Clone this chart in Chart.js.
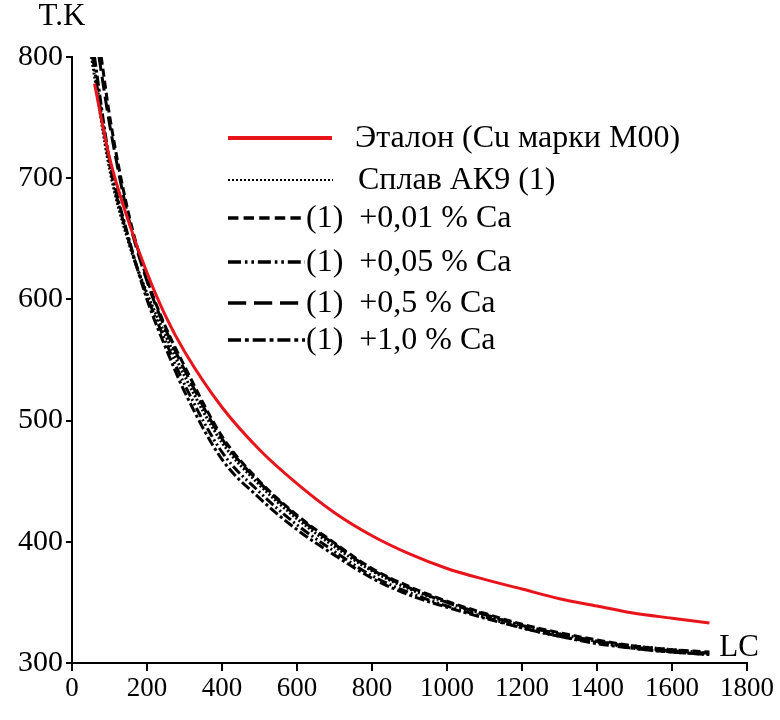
<!DOCTYPE html>
<html>
<head>
<meta charset="utf-8">
<script src="https://cdn.jsdelivr.net/npm/chart.js@4.4.1/dist/chart.umd.min.js"></script>
<style>
  body { margin: 0; background: #fff; }
</style>
</head>
<body>
<canvas id="coolingChart" width="780" height="720"></canvas>
<script>
// tick labels
var xTicks = [0, 200, 400, 600, 800, 1000, 1200, 1400, 1600, 1800];
var yTicks = [300, 400, 500, 600, 700, 800];

// legend labels
var seriesNames = [
    "Эталон (Cu марки М00)",
    "Сплав АК9 (1)",
    "(1)  +0,01 % Ca",
    "(1)  +0,05 % Ca",
    "(1)  +0,5 % Ca",
    "(1)  +1,0 % Ca"
];

// reference (red) curve
var lcRed = [60, 100, 150, 200, 250, 300, 400, 500, 600, 700, 800, 900, 1000, 1100, 1200, 1300, 1400, 1500, 1600, 1700];
var tRed  = [778, 717, 665, 622, 586, 557, 511, 476, 448, 424, 405, 390, 378, 369, 361, 353, 347, 341, 337, 333];

// black curves: first point where each curve leaves 800 K, then shared LC points
var startLC = [52, 78, 55, 72, 60];
var lcBlack = [100, 150, 200, 250, 300, 400, 500, 600, 700, 800, 900, 1000, 1100, 1200, 1300, 1400, 1500, 1600, 1700];
var tAK9   = [708, 648, 605, 570, 537, 482, 447, 419, 396, 376, 361, 350, 340, 331, 324, 318, 314, 311, 308];
var tCa001 = [752, 672, 617, 577, 545, 487, 450, 422, 399, 378, 363, 351, 341, 332, 325, 319, 314, 311, 309];
var tCa005 = [712, 650, 603, 565, 530, 474, 441, 414, 392, 372, 358, 347, 338, 329, 322, 317, 312, 309, 307];
var tCa05  = [745, 668, 615, 575, 542, 485, 449, 421, 398, 377, 362, 350, 340, 331, 324, 318, 313, 310, 308];
var tCa10  = [715, 652, 600, 560, 524, 468, 436, 410, 389, 370, 356, 346, 337, 329, 322, 316, 312, 309, 307];

var dashes = [[], [2, 2], [8, 4], [10, 3, 2, 3, 2, 3], [14, 6], [10, 3, 3, 3]];

function pts(xs, ys) {
    var out = [];
    for (var i = 0; i < xs.length; i++) out.push({x: xs[i], y: ys[i]});
    return out;
}
function blackPts(k, ys) {
    return [{x: startLC[k], y: 800}].concat(pts(lcBlack, ys));
}

var blackSeries = [tAK9, tCa001, tCa005, tCa05, tCa10];
var datasets = [{
    label: seriesNames[0],
    data: pts(lcRed, tRed),
    borderColor: "#e8141b",
    borderWidth: 3,
    borderDash: dashes[0]
}];
for (var k = 0; k < blackSeries.length; k++) {
    datasets.push({
        label: seriesNames[k + 1],
        data: blackPts(k, blackSeries[k]),
        borderColor: "#000",
        borderWidth: 3,
        borderDash: dashes[k + 1]
    });
}

var serif = "'Liberation Serif', 'Times New Roman', serif";

var annotations = {
    id: "annotations",
    afterDraw: function (chart) {
        var ctx = chart.ctx;
        ctx.save();
        ctx.fillStyle = "#000";
        ctx.textBaseline = "middle";
        ctx.font = "31px " + serif;
        ctx.textAlign = "center";
        ctx.fillText("T.K", 62, 17);
        ctx.fillText("LC", 739, 648);

        // legend
        var rowsY = [138, 180, 218, 262, 303, 340];
        var lineEnd = [332, 333, 305, 305, 305, 305];
        var textX = [355, 358, 306, 306, 306, 306];
        ctx.textAlign = "left";
        ctx.font = "32px " + serif;
        for (var i = 0; i < seriesNames.length; i++) {
            ctx.beginPath();
            ctx.setLineDash(i === 0 ? [] : (i === 1 ? [2, 2] : dashes[i].map(function (d) { return d * 1.3; })));
            ctx.lineWidth = i === 0 ? 4 : (i === 1 ? 2 : 3.5);
            ctx.strokeStyle = i === 0 ? "#e8141b" : "#000";
            ctx.moveTo(228, rowsY[i]);
            ctx.lineTo(lineEnd[i], rowsY[i]);
            ctx.stroke();
            ctx.fillText(seriesNames[i], textX[i], rowsY[i] + 1);
        }
        ctx.restore();
    }
};

var ctx = document.getElementById("coolingChart");
var chart = new Chart(ctx, {
    type: "line",
    data: { datasets: datasets },
    options: {
        responsive: false,
        animation: false,
        layout: { padding: { top: 57, right: 33, bottom: 0, left: 0 } },
        elements: {
            point: { radius: 0 },
            line: { tension: 0.4, cubicInterpolationMode: "monotone" }
        },
        plugins: {
            legend: { display: false },
            tooltip: { enabled: false }
        },
        scales: {
            x: {
                type: "linear",
                min: 0,
                max: 1800,
                afterFit: function (scale) { scale.height = 57; },
                afterBuildTicks: function (scale) {
                    scale.ticks = xTicks.map(function (v) { return {value: v}; });
                },
                border: { color: "#000", width: 2 },
                grid: { drawOnChartArea: false, color: "#000", lineWidth: 2, tickLength: 8 },
                ticks: {
                    color: "#000",
                    font: { family: serif, size: 27 },
                    padding: 2,
                    maxRotation: 0,
                    callback: function (v) { return String(v); }
                }
            },
            y: {
                min: 300,
                max: 800,
                afterFit: function (scale) { scale.width = 72; },
                afterBuildTicks: function (scale) {
                    scale.ticks = yTicks.map(function (v) { return {value: v}; });
                },
                border: { color: "#000", width: 2 },
                grid: { drawOnChartArea: false, color: "#000", lineWidth: 2, tickLength: 6 },
                ticks: {
                    color: "#000",
                    font: { family: serif, size: 30 },
                    padding: 3,
                    callback: function (v) { return String(v); }
                }
            }
        }
    },
    plugins: [annotations]
});
</script>
</body>
</html>
